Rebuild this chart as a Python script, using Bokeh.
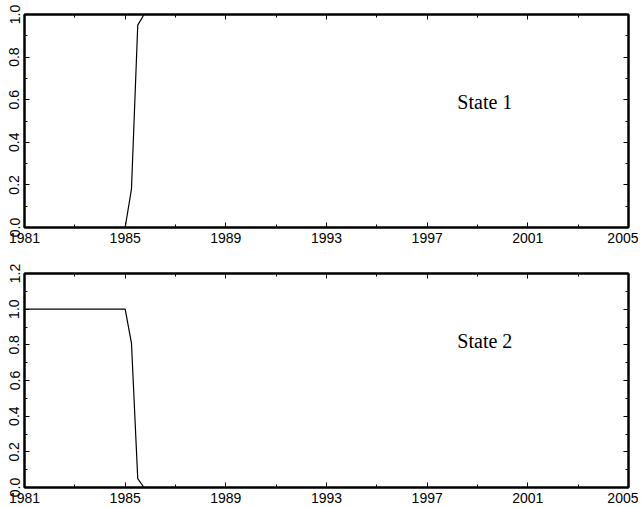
from bokeh.plotting import figure
from bokeh.layouts import column
from bokeh.models import Range1d, LinearAxis, FixedTicker, PrintfTickFormatter, Label, CustomJSTickFormatter
from bokeh.embed import file_html
from bokeh.resources import INLINE

# data (quarterly smoothed probabilities, change points only)
years1 = [1981.0, 1985.0, 1985.25, 1985.5, 1985.75, 2005.0]
state1 = [0.0, 0.0, 0.18, 0.95, 1.0, 1.0]
years2 = [1981.0, 1985.0, 1985.25, 1985.5, 1985.75, 2005.0]
state2 = [1.0, 1.0, 0.81, 0.05, 0.0, 0.0]

x_ticks = [1981, 1985, 1989, 1993, 1997, 2001, 2005]
x_minor = [1983, 1987, 1991, 1995, 1999, 2003]
y1_ticks = [0.0, 0.2, 0.4, 0.6, 0.8, 1.0]
y2_ticks = [0.0, 0.2, 0.4, 0.6, 0.8, 1.0, 1.2]
y1_minor = [0.1, 0.3, 0.5, 0.7, 0.9]
y2_minor = [0.1, 0.3, 0.5, 0.7, 0.9, 1.1]

SANS = "Liberation Sans"
SERIF = "Liberation Serif"


def style_axis(ax, show_labels, vertical=False, standoff=2):
    ax.axis_line_width = 2
    ax.axis_line_color = "black"
    ax.major_tick_in = 5
    ax.major_tick_out = 0
    ax.minor_tick_in = 3
    ax.minor_tick_out = 0
    ax.major_tick_line_color = "black"
    ax.minor_tick_line_color = "black"
    ax.major_label_text_font = SANS
    ax.major_label_text_color = "black"
    if show_labels:
        ax.major_label_text_font_size = "14px"
        ax.major_label_standoff = standoff
    else:
        ax.formatter = CustomJSTickFormatter(code="return '';")
        ax.major_label_text_font_size = "1px"
        ax.major_label_standoff = 0
    if vertical:
        ax.major_label_orientation = "vertical"


def panel(xs, ys, ymax, yt, ym, label, label_y, fh, btop, bbot):
    p = figure(frame_width=604, frame_height=fh, output_backend="svg",
               toolbar_location=None, x_range=Range1d(1981, 2005),
               y_range=Range1d(0, ymax), min_border_left=24,
               min_border_right=10, min_border_top=btop,
               min_border_bottom=bbot)
    p.grid.visible = False
    p.outline_line_color = "black"
    p.outline_line_width = 2
    p.background_fill_color = "white"
    p.border_fill_color = "white"

    p.xaxis.ticker = FixedTicker(ticks=x_ticks, minor_ticks=x_minor)
    p.yaxis.ticker = FixedTicker(ticks=yt, minor_ticks=ym)
    p.yaxis.formatter = PrintfTickFormatter(format="%.1f")
    for ax in p.xaxis:
        style_axis(ax, True, standoff=5)
    for ax in p.yaxis:
        style_axis(ax, True, vertical=True, standoff=5)

    top = LinearAxis(ticker=FixedTicker(ticks=x_ticks, minor_ticks=x_minor))
    style_axis(top, False)
    p.add_layout(top, "above")
    right = LinearAxis(ticker=FixedTicker(ticks=yt, minor_ticks=ym))
    style_axis(right, False)
    p.add_layout(right, "right")

    p.line(xs, ys, line_color="black", line_width=1.2)
    p.add_layout(Label(x=1998.2, y=label_y, text=label, text_font=SERIF,
                       text_font_size="20px", text_baseline="middle",
                       text_color="black"))
    return p


p1 = panel(years1, state1, 1.0, y1_ticks, y1_minor, "State 1", 0.59, 213, 14, 25)
p2 = panel(years2, state2, 1.2, y2_ticks, y2_minor, "State 2", 0.82, 214, 21, 19)

layout = column(p1, p2, spacing=0)
open("out.html", "w").write(file_html(layout, INLINE))
